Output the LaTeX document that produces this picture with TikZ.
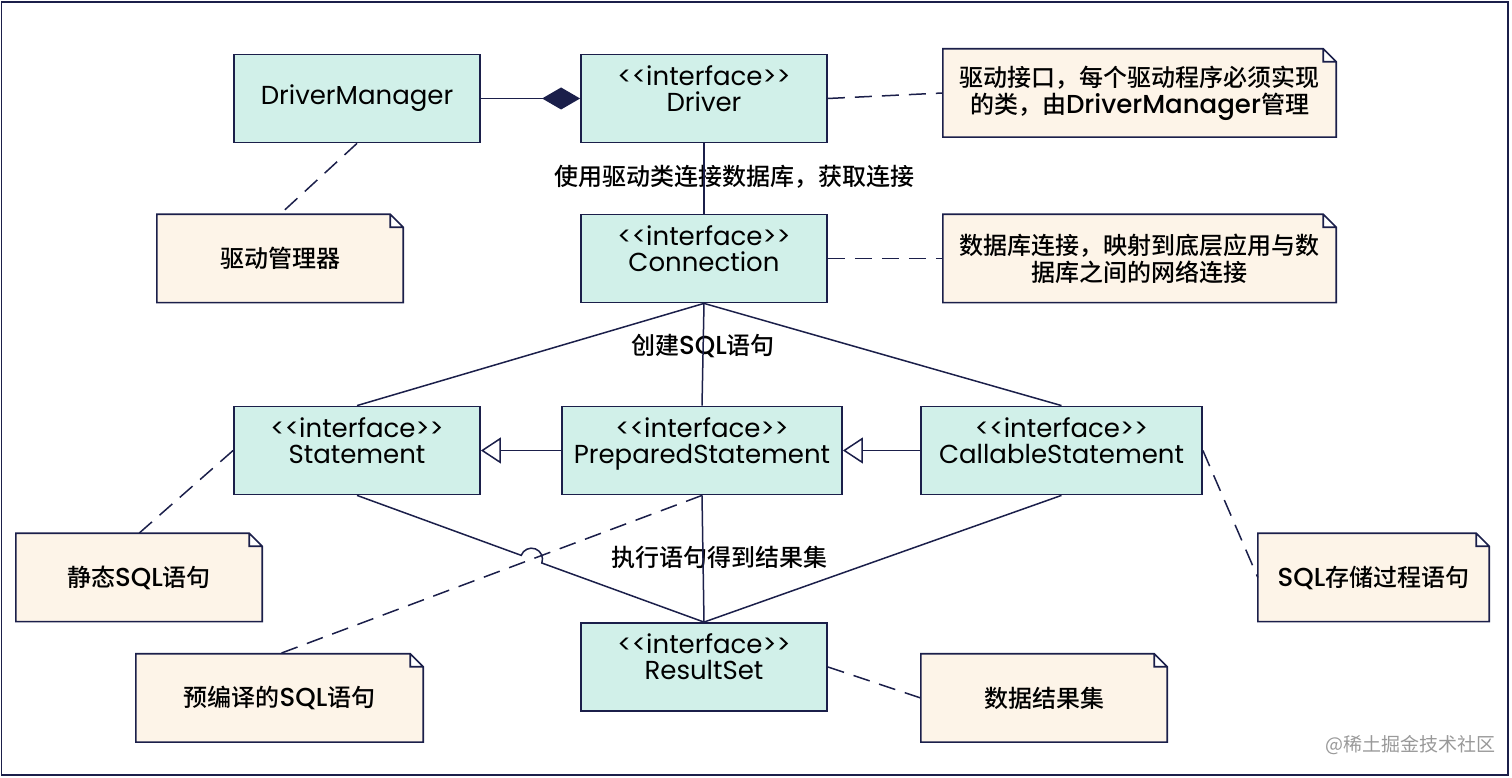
\documentclass[tikz,border=0pt]{standalone}
\usepackage{fontspec}
\setmainfont{Poppins}
\newfontfamily\popm{Poppins Medium}
\newfontfamily\cjk{Noto Sans CJK SC}
\newfontfamily\cjkm{Noto Sans CJK SC Medium}
\usetikzlibrary{arrows.meta,calc,backgrounds}
\definecolor{ink}{HTML}{1B1F4A}
\definecolor{boxfill}{HTML}{D1F0E9}
\definecolor{notefill}{HTML}{FDF4E8}
\newcommand\zh[1]{{\cjkm\fontsize{24}{27}\selectfont #1}}
\tikzset{
  cls/.style={draw=ink, line width=1.8pt, fill=boxfill, minimum width=246pt,
    minimum height=88pt, inner sep=0pt, align=center,
    font=\fontsize{26}{26}\selectfont},
  iface/.style={text depth=20pt},
  note/.style={minimum width=246pt, minimum height=88pt, inner sep=0pt,
    align=center, font=\popm\fontsize{26}{27}\selectfont},
  lbl/.style={font=\popm\fontsize{26}{26}\selectfont},
  dashline/.style={dash pattern=on 17pt off 10pt},
}
\begin{document}
\begin{tikzpicture}[x=1pt,y=1pt]
  \useasboundingbox (0,0) rectangle (1512,778);
  \draw[ink, line width=1.5pt] (1.5,3) rectangle (1508,776);
  \path
    (357,679.5) node[cls] (dm) {DriverManager}
    (704,679.5) node[cls,iface] (drv) {<{}<interface>{}>\\Driver}
    (704,519.5) node[cls,iface] (conn) {<{}<interface>{}>\\Connection}
    (357,327.5) node[cls,iface] (stm) {<{}<interface>{}>\\Statement}
    (702,327.5) node[cls,iface,minimum width=280pt] (pst) {<{}<interface>{}>\\PreparedStatement}
    (1061.5,327.5) node[cls,iface,minimum width=281pt] (cst) {<{}<interface>{}>\\CallableStatement}
    (704,111) node[cls,iface] (rs) {<{}<interface>{}>\\ResultSet};
  \path
    (1139.5,685) node[note,minimum width=393pt] (ndrv) {\zh{驱动接口，每个驱动程序必须实现}\\\zh{的类，由}DriverManager\zh{管理}}
    (280,519.5) node[note] (ndm) {\zh{驱动管理器}}
    (1139.5,519.5) node[note,minimum width=393pt] (nconn) {\zh{数据库连接，映射到底层应用与数}\\\zh{据库之间的网络连接}}
    (139,200.5) node[note] (nstm) {\zh{静态}SQL\zh{语句}}
    (279.5,80) node[note,minimum width=287pt] (npst) {\zh{预编译的}SQL\zh{语句}}
    (1373.5,200.5) node[note,minimum width=231pt] (ncst) {SQL\zh{存储过程语句}}
    (1044,80) node[note] (nrs) {\zh{数据结果集}};
  \begin{scope}[on background layer]
    \foreach \n in {ndrv,ndm,nconn,nstm,npst,ncst,nrs}
      \draw[ink, line width=1.6pt, fill=notefill]
        (\n.north west) -- ([xshift=-13pt]\n.north east) -- ([yshift=-13pt]\n.north east)
        -- (\n.south east) -- (\n.south west) -- cycle
        ([xshift=-13pt]\n.north east) |- ([yshift=-13pt]\n.north east);
  \end{scope}
  \path
    (734,601) node[lbl] (l1) {\zh{使用驱动类连接数据库，获取连接}}
    (703,432) node[lbl] (l2) {\zh{创建}SQL\zh{语句}}
    (719.5,221) node[lbl] (l3) {\zh{执行语句得到结果集}}
    (1410,33) node[font=\fontsize{19}{19}\selectfont\cjk, text=black!40] (wm) {@稀土掘金技术社区};
  \begin{scope}[ink, line width=1.5pt]
    \draw[-{Diamond[length=38pt,width=22pt]}] (dm) -- (drv);
    \draw (drv) -- (conn);
    \draw (conn.south) -- (stm.north);
    \draw (conn.south) -- (pst.north);
    \draw (conn.south) -- (cst.north);
    \draw[-{Triangle[open,length=20pt,width=26pt]}] (pst) -- (stm);
    \draw[-{Triangle[open,length=20pt,width=26pt]}] (cst) -- (pst);
    \coordinate (hop) at ($(stm.south)!0.503!(rs.north)$);
    \draw (stm.south) -- ($(hop)!11pt!(stm.south)$)
      arc[start angle=159.6, end angle=-20.4, radius=11pt] -- (rs.north);
    \draw (pst.south) -- (rs.north);
    \draw (cst.south) -- (rs.north);
  \end{scope}
  \begin{scope}[ink, line width=1.5pt, dashline]
    \draw (drv.east) -- (ndrv.west);
    \draw (conn.east) -- (nconn.west);
    \draw (dm.south) -- (ndm.north);
    \draw (stm.west) -- (nstm.north);
    \draw (pst.south) -- (npst.north);
    \draw (cst.east) -- (ncst.west);
    \draw (rs.east) -- (nrs.west);
  \end{scope}
\end{tikzpicture}
\end{document}
